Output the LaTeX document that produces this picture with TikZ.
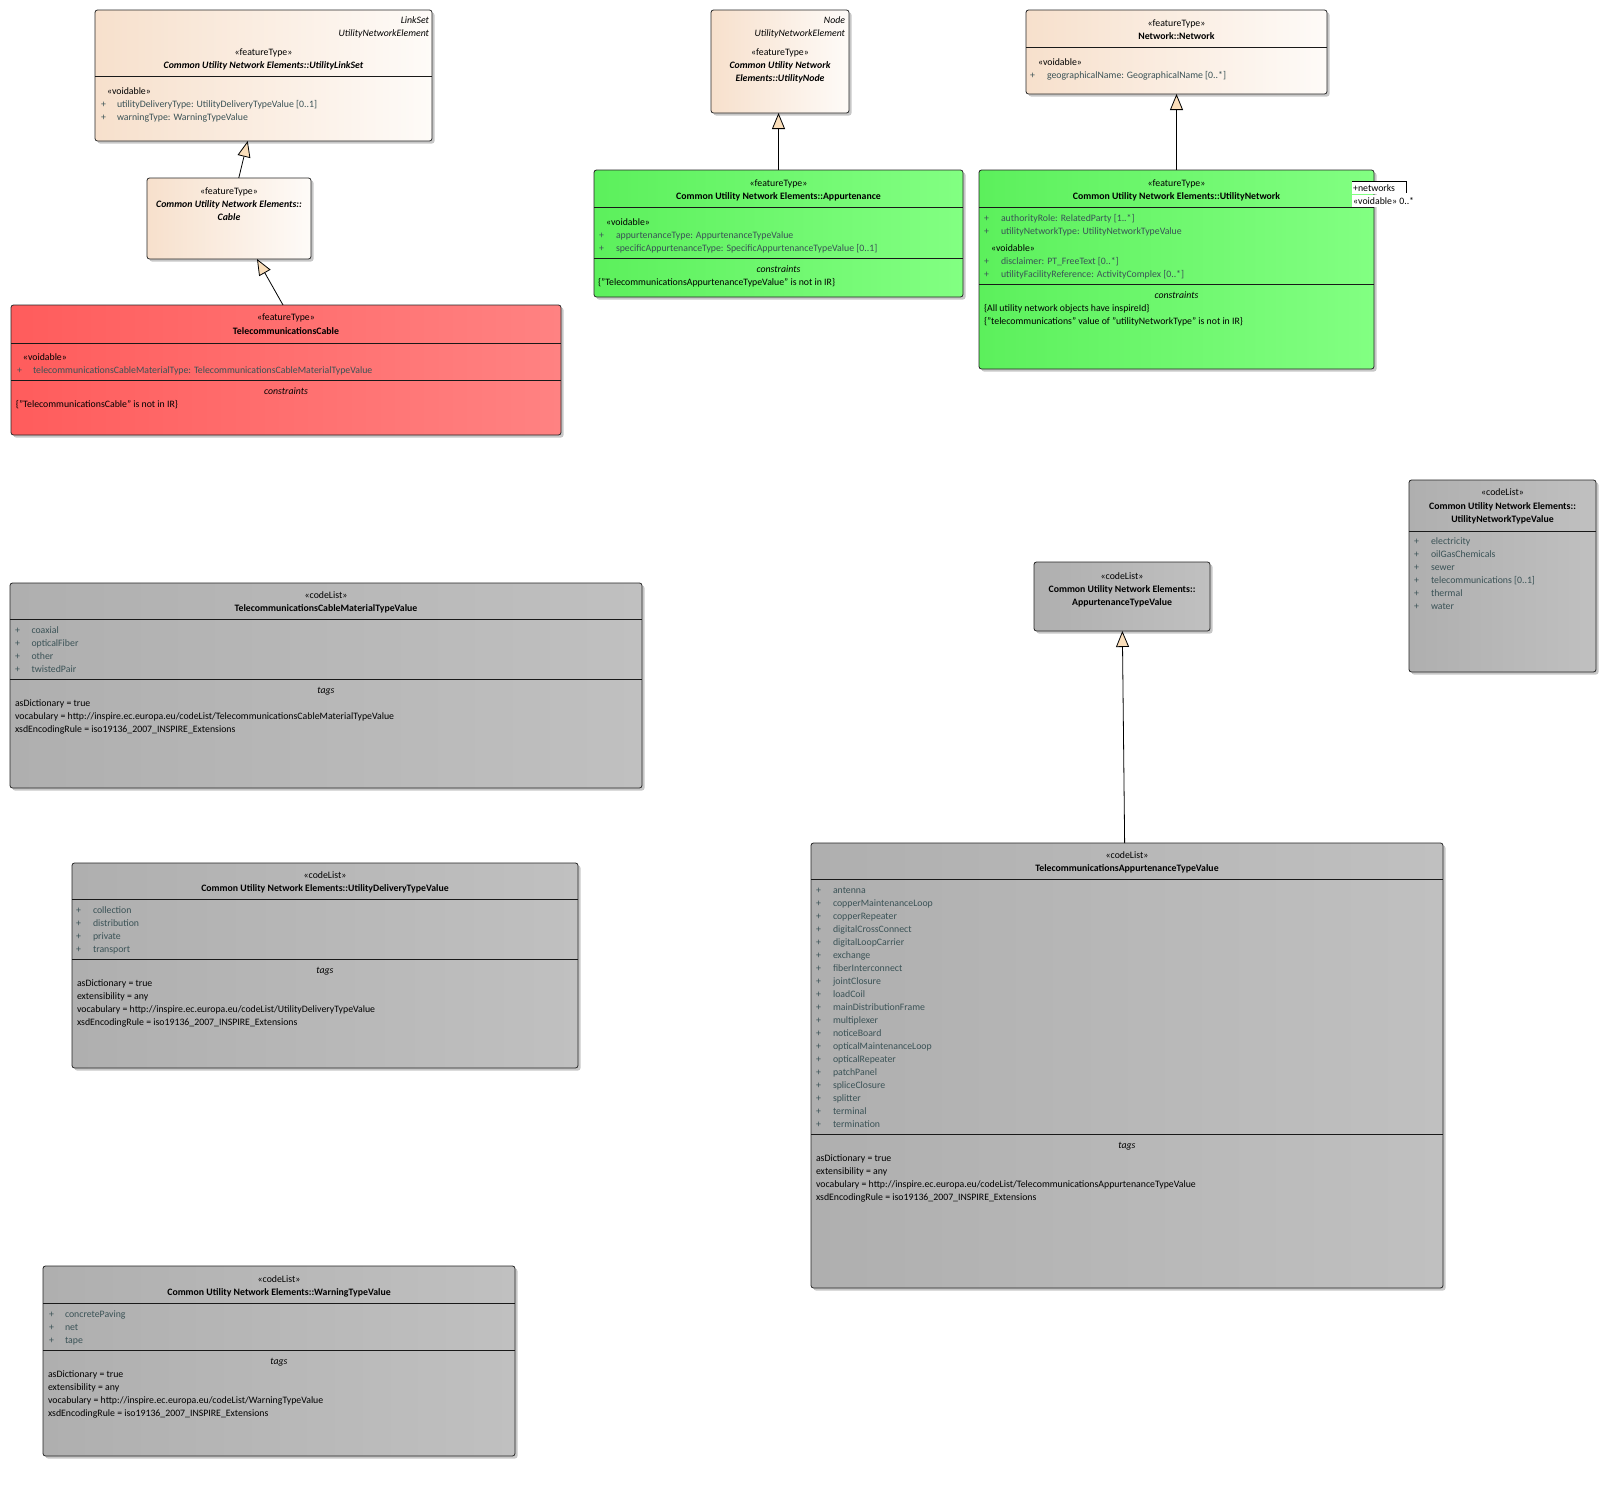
\documentclass[tikz,border=0pt]{standalone}
\usepackage{fontspec}
\setmainfont{Carlito}
\usetikzlibrary{arrows.meta,shadows}
\definecolor{peachL}{RGB}{247,224,204}
\definecolor{peachR}{RGB}{254,251,248}
\definecolor{greenL}{RGB}{92,240,92}
\definecolor{greenR}{RGB}{130,255,130}
\definecolor{redL}{RGB}{255,92,92}
\definecolor{redR}{RGB}{255,130,130}
\definecolor{greyL}{RGB}{175,175,175}
\definecolor{greyR}{RGB}{192,192,192}
\definecolor{attrc}{RGB}{58,82,86}
\definecolor{arrowfill}{RGB}{250,222,186}
\newcommand\fs{\fontsize{9.8}{11}\selectfont}
\newcounter{tn}
\newcommand\TT[4][]{\stepcounter{tn}\edef\tname{t\arabic{tn}}\node[txt,#1] (\tname) at (#2,#3) {#4};}
\newcommand\ATTR[4]{\TT[tAl,tAt]{#1}{#3}{+}\TT[tAl,tAt]{#2}{#3}{#4}}
\newcommand\ITEMS[4]{\foreach \itm [count=\i from 0] in {#4} {\ATTR{#1}{#2}{{#3+13*\i}}{\itm}}}
\newcommand\DIV[2]{\draw[divl] (#1.west |- 0,#2) -- (#1.east |- 0,#2);}
\newcommand\BOX[6]{\node[#1, minimum width=\fpeval{#5-#3}pt, minimum height=\fpeval{#6-#4}pt] (#2) at (#3,#4) {};}
\begin{document}
\begin{tikzpicture}[x=1pt,y=-1pt,
  txt/.style={inner sep=0pt, outer sep=0pt, font=\fs, text=black, yshift=-1.5pt},
  tAl/.style={anchor=mid west}, tAc/.style={anchor=mid}, tAr/.style={anchor=mid east},
  tSt/.style={font=\fs}, tAt/.style={font=\fs, text=attrc},
  tBf/.style={font=\fs\bfseries}, tBi/.style={font=\fs\bfseries\itshape}, tIt/.style={font=\fs\itshape},
  cls/.style={draw=black!85, line width=0.8pt, rounded corners=2.5pt, inner sep=0pt, outer sep=0pt, anchor=north west,
    drop shadow={shadow xshift=2.5pt, shadow yshift=-2.5pt, opacity=0.22, fill=black}},
  boxPeach/.style={cls, left color=peachL, right color=peachR},
  boxGreen/.style={cls, left color=greenL, right color=greenR},
  boxRed/.style={cls, left color=redL, right color=redR},
  boxGrey/.style={cls, left color=greyL, right color=greyR},
  divl/.style={draw=black!90, line width=0.8pt},
  gen/.style={draw=black, line width=0.8pt, -{Triangle[length=16pt,width=13pt,fill=arrowfill]}},
  lbl/.style={fill=white, inner xsep=1pt, inner ysep=0pt, minimum height=12.5pt, anchor=north west, font=\fs, text=black}]
\fill[white] (0,0) rectangle (1606,1486);
\useasboundingbox (0,0) rectangle (1606,1486);

% ---- UtilityLinkSet
\BOX{boxPeach}{linkset}{95}{10}{432}{141}
\DIV{linkset}{76}
\TT[tAr,tIt]{429}{20}{LinkSet}
\TT[tAr,tIt]{429}{33}{UtilityNetworkElement}
\TT[tAc,tSt]{263.5}{52}{«featureType»}
\TT[tAc,tBi]{263.5}{65}{Common Utility Network Elements::UtilityLinkSet}
\TT[tAl,tSt]{107}{91}{«voidable»}
\ATTR{101}{117}{104}{utilityDeliveryType: UtilityDeliveryTypeValue [0..1]}
\ATTR{101}{117}{117}{warningType: WarningTypeValue}

% ---- Cable
\BOX{boxPeach}{cable}{147}{178}{311}{259}
\TT[tAc,tSt]{229}{191}{«featureType»}
\TT[tAc,tBi]{229}{204}{Common Utility Network Elements::}
\TT[tAc,tBi]{229}{217}{Cable}

% ---- TelecommunicationsCable
\BOX{boxRed}{tcable}{11}{305}{561}{435}
\DIV{tcable}{343}
\DIV{tcable}{380}
\TT[tAc,tSt]{286}{317}{«featureType»}
\TT[tAc,tBf]{286}{331}{TelecommunicationsCable}
\TT[tAl,tSt]{23}{357}{«voidable»}
\ATTR{17}{33}{370}{telecommunicationsCableMaterialType: TelecommunicationsCableMaterialTypeValue}
\TT[tAc,tIt]{286}{391}{constraints}
\TT[tAl,tSt]{16}{404}{\{"TelecommunicationsCable" is not in IR\}}

% ---- UtilityNode
\BOX{boxPeach}{unode}{711}{10}{849}{113}
\TT[tAr,tIt]{845}{20}{Node}
\TT[tAr,tIt]{845}{33}{UtilityNetworkElement}
\TT[tAc,tSt]{780}{52}{«featureType»}
\TT[tAc,tBi]{780}{65}{Common Utility Network}
\TT[tAc,tBi]{780}{78}{Elements::UtilityNode}

% ---- Appurtenance
\BOX{boxGreen}{appurt}{594}{170}{963}{297}
\DIV{appurt}{207}
\DIV{appurt}{258}
\TT[tAc,tSt]{778.5}{183}{«featureType»}
\TT[tAc,tBf]{778.5}{196}{Common Utility Network Elements::Appurtenance}
\TT[tAl,tSt]{606}{222}{«voidable»}
\ATTR{599}{616}{235}{appurtenanceType: AppurtenanceTypeValue}
\ATTR{599}{616}{248}{specificAppurtenanceType: SpecificAppurtenanceTypeValue [0..1]}
\TT[tAc,tIt]{778.5}{269}{constraints}
\TT[tAl,tSt]{598}{282}{\{"TelecommunicationsAppurtenanceTypeValue" is not in IR\}}

% ---- Network
\BOX{boxPeach}{network}{1026}{10}{1327}{94}
\DIV{network}{47}
\TT[tAc,tSt]{1176.5}{23}{«featureType»}
\TT[tAc,tBf]{1176.5}{36}{Network::Network}
\TT[tAl,tSt]{1038}{62}{«voidable»}
\ATTR{1030}{1047}{75}{geographicalName: GeographicalName [0..*]}

% ---- UtilityNetwork
\BOX{boxGreen}{unet}{979}{170}{1374}{369}
\DIV{unet}{207}
\DIV{unet}{284}
\TT[tAc,tSt]{1176.5}{183}{«featureType»}
\TT[tAc,tBf]{1176.5}{196}{Common Utility Network Elements::UtilityNetwork}
\ATTR{984}{1001}{218}{authorityRole: RelatedParty [1..*]}
\ATTR{984}{1001}{231}{utilityNetworkType: UtilityNetworkTypeValue}
\TT[tAl,tSt]{991}{248}{«voidable»}
\ATTR{984}{1001}{261}{disclaimer: PT\_FreeText [0..*]}
\ATTR{984}{1001}{274}{utilityFacilityReference: ActivityComplex [0..*]}
\TT[tAc,tIt]{1176.5}{295}{constraints}
\TT[tAl,tSt]{984}{308}{\{All utility network objects have inspireId\}}
\TT[tAl,tSt]{984}{321}{\{"telecommunications" value of "utilityNetworkType" is not in IR\}}

% ---- UtilityNetworkTypeValue
\BOX{boxGrey}{untv}{1409}{480}{1596}{672}
\DIV{untv}{531}
\TT[tAc,tSt]{1502.5}{492}{«codeList»}
\TT[tAc,tBf]{1502.5}{506}{Common Utility Network Elements::}
\TT[tAc,tBf]{1502.5}{519}{UtilityNetworkTypeValue}
\ITEMS{1414}{1431}{541}{electricity,oilGasChemicals,sewer,telecommunications [0..1],thermal,water}

% ---- TelecommunicationsCableMaterialTypeValue
\BOX{boxGrey}{tcmtv}{10}{583}{642}{788}
\DIV{tcmtv}{619}
\DIV{tcmtv}{679}
\TT[tAc,tSt]{326}{595}{«codeList»}
\TT[tAc,tBf]{326}{608}{TelecommunicationsCableMaterialTypeValue}
\ITEMS{15}{31.5}{630}{coaxial,opticalFiber,other,twistedPair}
\TT[tAc,tIt]{326}{690}{tags}
\TT[tAl,tSt]{15}{703}{asDictionary = true}
\TT[tAl,tSt]{15}{716}{vocabulary = http://inspire.ec.europa.eu/codeList/TelecommunicationsCableMaterialTypeValue}
\TT[tAl,tSt]{15}{729}{xsdEncodingRule = iso19136\_2007\_INSPIRE\_Extensions}

% ---- UtilityDeliveryTypeValue
\BOX{boxGrey}{udtv}{72}{863}{578}{1068}
\DIV{udtv}{899}
\DIV{udtv}{959}
\TT[tAc,tSt]{325}{875}{«codeList»}
\TT[tAc,tBf]{325}{888}{Common Utility Network Elements::UtilityDeliveryTypeValue}
\ITEMS{76}{93}{910}{collection,distribution,private,transport}
\TT[tAc,tIt]{325}{970}{tags}
\TT[tAl,tSt]{77}{983}{asDictionary = true}
\TT[tAl,tSt]{77}{996}{extensibility = any}
\TT[tAl,tSt]{77}{1009}{vocabulary = http://inspire.ec.europa.eu/codeList/UtilityDeliveryTypeValue}
\TT[tAl,tSt]{77}{1022}{xsdEncodingRule = iso19136\_2007\_INSPIRE\_Extensions}

% ---- WarningTypeValue
\BOX{boxGrey}{wtv}{43}{1266}{515}{1456}
\DIV{wtv}{1303}
\DIV{wtv}{1350}
\TT[tAc,tSt]{279}{1279}{«codeList»}
\TT[tAc,tBf]{279}{1292}{Common Utility Network Elements::WarningTypeValue}
\ITEMS{49}{65}{1314}{concretePaving,net,tape}
\TT[tAc,tIt]{279}{1361}{tags}
\TT[tAl,tSt]{48}{1374}{asDictionary = true}
\TT[tAl,tSt]{48}{1387}{extensibility = any}
\TT[tAl,tSt]{48}{1400}{vocabulary = http://inspire.ec.europa.eu/codeList/WarningTypeValue}
\TT[tAl,tSt]{48}{1413}{xsdEncodingRule = iso19136\_2007\_INSPIRE\_Extensions}

% ---- AppurtenanceTypeValue
\BOX{boxGrey}{atv}{1034}{562}{1210}{631}
\TT[tAc,tSt]{1122}{576}{«codeList»}
\TT[tAc,tBf]{1122}{589}{Common Utility Network Elements::}
\TT[tAc,tBf]{1122}{602}{AppurtenanceTypeValue}

% ---- TelecommunicationsAppurtenanceTypeValue
\BOX{boxGrey}{tatv}{811}{843}{1443}{1288}
\DIV{tatv}{879}
\DIV{tatv}{1134.5}
\TT[tAc,tSt]{1127}{855}{«codeList»}
\TT[tAc,tBf]{1127}{868}{TelecommunicationsAppurtenanceTypeValue}
\ITEMS{816}{833}{890}{antenna,copperMaintenanceLoop,copperRepeater,digitalCrossConnect,digitalLoopCarrier,exchange,fiberInterconnect,jointClosure,loadCoil,mainDistributionFrame,multiplexer,noticeBoard,opticalMaintenanceLoop,opticalRepeater,patchPanel,spliceClosure,splitter,terminal,termination}
\TT[tAc,tIt]{1127}{1145}{tags}
\TT[tAl,tSt]{816}{1158}{asDictionary = true}
\TT[tAl,tSt]{816}{1171}{extensibility = any}
\TT[tAl,tSt]{816}{1184}{vocabulary = http://inspire.ec.europa.eu/codeList/TelecommunicationsAppurtenanceTypeValue}
\TT[tAl,tSt]{816}{1197}{xsdEncodingRule = iso19136\_2007\_INSPIRE\_Extensions}

% ---- generalisations
\draw[gen] (cable) -- (linkset);
\draw[gen] ([xshift=272pt]tcable.north west) -- ([xshift=110pt]cable.south west);
\draw[gen] (appurt.north) -- (appurt.north |- unode.south);
\draw[gen] (unet.north) -- (unet.north |- network.south);
\draw[gen] (tatv) -- (atv);

% ---- association end label
\node[lbl] (rn) at (1352,181.5) {+networks};
\node[lbl] (rv) at (1352,194.5) {«voidable» 0..*};
\coordinate (c1) at (1406,181.5);
\coordinate (c2) at (1406,193);
\draw[line width=0.8pt] (rn.north west) -- (c1) -- (c2);
\end{tikzpicture}
\end{document}
